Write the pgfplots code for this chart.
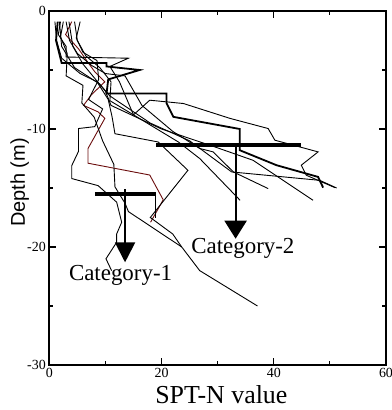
\documentclass[border=0pt]{standalone}
\usepackage{pgfplots}
\pgfplotsset{compat=1.18}
\usetikzlibrary{arrows.meta}
\usepackage{fontspec}
\setmainfont{Liberation Serif}
\newfontfamily\helv{Liberation Sans}
\definecolor{brownline}{rgb}{0.42,0.05,0.05}
\begin{document}
\begin{tikzpicture}
\useasboundingbox (-49.3bp,-45bp) rectangle (342.7bp,365bp);
\begin{axis}[
 at={(0,0)}, anchor=south west, scale only axis,
 width=336.7bp, height=354bp,
 xmin=0, xmax=60, ymin=-30, ymax=0,
 xtick={0,20,40,60}, minor xtick={10,30,50},
 ytick={-30,-20,-10,0}, minor ytick={-25,-15,-5},
 tick align=inside, major tick length=7bp, minor tick length=4bp,
 axis line style={line width=1.6bp},
 every tick/.style={line width=1.2bp, black},
 /pgf/number format/assume math mode=true,
 ticklabel style={font=\fontsize{14}{14}\selectfont},
 xlabel={SPT-N value},
 xlabel style={font=\fontsize{26}{26}\selectfont, at={(axis description cs:0.511,-0.0828)}, anchor=center},
 ylabel={Depth (m)},
 ylabel style={font=\helv\fontsize{20}{20}\selectfont, at={(axis description cs:-0.088,0.5155)}, anchor=center},
 cycle list={{black,solid,mark=none}},
 every axis plot/.append style={line width=0.9bp},
]
% brown profile
\addplot[brownline] coordinates {(4.0,-0.9) (2.9,-2.0) (5.2,-3.2) (6.8,-4.3) (8.1,-5.15) (9.9,-6.0) (7.5,-7.1) (6.1,-8.0) (8.7,-8.55) (9.9,-9.1) (6.9,-11.65) (6.9,-12.9) (17.9,-13.9) (20.3,-16.0) (18.05,-17.9)};
% black profiles
\addplot[black] coordinates {(1.0,-0.9) (1.3,-2.5) (2.2,-4.0) (5.5,-5.3) (8.5,-6.0) (10.5,-7.5) (11.2,-9.0) (11.7,-10.4) (19.4,-11.1) (24.7,-13.5) (18.0,-17.5) (22.0,-18.9) (23.6,-20.0) (26.8,-22.0) (37.1,-25.0)};
\addplot[black] coordinates {(2.5,-0.9) (2.0,-2.2) (3.2,-3.6) (3.0,-5.5) (6.0,-6.3) (5.8,-7.8) (8.0,-9.0) (9.5,-11.0) (11.5,-13.0) (11.7,-14.9) (13.5,-16.3) (14.1,-17.0) (23.6,-20.0)};
\addplot[black] coordinates {(5.5,-0.9) (4.8,-2.3) (6.0,-3.5) (8.5,-4.2) (8.8,-5.8) (7.0,-7.5) (9.5,-8.3) (8.1,-9.8) (5.2,-9.96) (5.2,-11.9) (4.0,-13.1) (4.0,-14.2) (8.7,-14.8) (12.0,-16.2) (12.9,-17.9) (12.0,-18.9) (12.0,-19.6) (10.1,-21.0) (11.1,-22.0)};
\addplot[black] coordinates {(2.0,-0.9) (1.6,-2.0) (3.0,-3.0) (3.0,-3.9) (14.1,-4.0) (10.8,-4.7) (12.5,-6.0) (15.0,-8.8) (17.9,-7.56) (23.9,-7.84) (32.2,-9.1) (39.0,-9.96) (40.2,-10.95) (47.9,-11.94) (44.9,-13.07) (45.8,-13.92) (50.9,-14.97)};
\addplot[black] coordinates {(3.0,-0.9) (3.6,-2.5) (5.0,-3.6) (7.5,-4.6) (10.0,-5.3) (13.5,-5.5) (16.5,-8.0) (22.0,-10.2) (26.8,-11.65) (29.2,-11.94) (32.8,-13.64) (39.0,-15.05)};
\addplot[black] coordinates {(4.5,-0.9) (5.0,-2.5) (6.5,-3.8) (9.0,-4.8) (11.0,-6.0) (10.8,-7.6) (15.0,-8.8) (23.0,-11.1) (26.8,-12.5) (34.0,-16.04)};
\addplot[black] coordinates {(1.8,-0.9) (2.2,-3.0) (4.5,-4.8) (9.0,-6.2) (10.8,-7.2) (18.0,-9.5) (25.0,-11.0) (32.5,-13.64) (48.2,-14.35) (51.2,-15.0)};
\addplot[black] coordinates {(3.5,-0.9) (4.2,-3.0) (6.0,-4.5) (10.0,-6.8) (11.0,-8.0) (20.0,-10.0) (30.0,-11.6) (36.3,-12.65) (47.0,-16.04)};
\addplot[black] coordinates {(19.0,-15.5) (19.0,-17.5)};
% bold stepped profile
\addplot[black, line width=1.8bp] coordinates {(1.5,-0.9) (1.2,-2.5) (2.2,-4.4) (10.2,-4.4) (10.2,-4.7) (16.1,-5.0) (10.5,-5.8) (10.2,-7.0) (20.9,-7.0) (20.9,-7.83) (22.1,-8.97) (33.95,-10.0) (33.95,-11.8) (40.5,-13.07) (47.9,-14.06) (48.8,-14.97)};
% category bars and arrows
\addplot[black, line width=4bp] coordinates {(19.1,-11.32) (44.8,-11.32)};
\addplot[black, line width=2bp, -{Triangle[length=18bp,width=22bp]}] coordinates {(33.2,-11.32) (33.2,-19.3)};
\addplot[black, line width=4bp] coordinates {(8.1,-15.5) (19.0,-15.5)};
\addplot[black, line width=2bp, -{Triangle[length=20bp,width=20bp]}] coordinates {(13.5,-15.1) (13.5,-21.3)};
\node[font=\fontsize{23}{23}\selectfont] at (axis cs:12.7,-22.4) {Category-1};
\node[font=\fontsize{23}{23}\selectfont] at (axis cs:34.5,-20.1) {Category-2};
\end{axis}
\end{tikzpicture}
\end{document}
